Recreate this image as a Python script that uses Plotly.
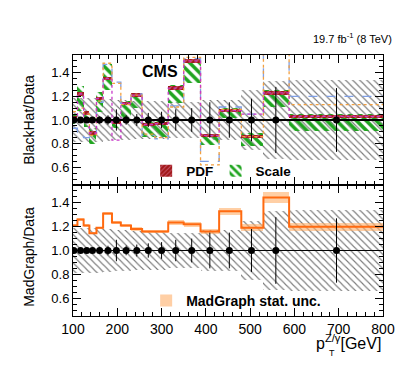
import plotly.graph_objects as go

# pT bin edges [GeV]
edges = [100, 110, 124, 137, 153, 168, 188, 208, 231, 256, 285, 315, 350, 388, 430, 480, 530, 588, 800]
pt_points = [102, 117, 131, 144, 160, 179, 198, 220, 244, 270, 300, 332, 368, 409, 453, 503, 558, 695]
ratio_points = [1.0] * 18
data_stat = [0.02, 0.02, 0.02, 0.02, 0.03, 0.04, 0.09, 0.04, 0.05, 0.06, 0.07, 0.09, 0.10, 0.15, 0.15, 0.18, 0.28, 0.27]
data_syst = [0.19, 0.19, 0.19, 0.19, 0.19, 0.18, 0.17, 0.17, 0.16, 0.16, 0.16, 0.15, 0.15, 0.17, 0.17, 0.25, 0.33, 0.34]

# BlackHat / Data
bh_central = [1.02, 1.22, 1.06, 0.89, 1.18, 1.35, 0.98, 1.14, 1.21, 0.96, 0.97, 1.27, 1.50, 0.87, 1.08, 0.86, 1.23, 1.03]
scale_lo = [0.97, 1.08, 0.94, 0.80, 1.07, 1.25, 0.93, 1.02, 1.10, 0.86, 0.86, 1.14, 1.31, 0.79, 1.02, 0.78, 1.11, 0.91]
scale_hi = [1.04, 1.29, 1.08, 0.93, 1.24, 1.47, 1.00, 1.16, 1.23, 0.99, 1.00, 1.30, 1.52, 0.88, 1.10, 0.89, 1.25, 1.05]
bh_blue = [0.93, 0.86, 0.85, 0.86, 1.15, 1.47, 1.32, 1.14, 1.22, 0.87, 0.84, 1.12, 1.52, 0.65, 1.11, 1.05, 1.70, 1.20]
bh_orange = [1.07, 1.10, 1.05, 0.87, 1.16, 1.48, 1.31, 1.13, 1.21, 0.88, 0.85, 1.11, 1.53, 0.62, 1.09, 0.86, 1.70, 1.13]
bh_magenta = [1.02, 1.22, 1.00, 0.89, 1.18, 1.35, 0.83, 1.14, 1.21, 0.96, 0.97, 1.27, 1.50, 0.87, 1.08, 1.05, 1.23, 1.03]
pdf_err = 0.015

# MadGraph / Data
mg_ratio = [1.21, 1.26, 1.21, 1.145, 1.19, 1.31, 1.235, 1.21, 1.18, 1.16, 1.16, 1.235, 1.22, 1.16, 1.33, 1.19, 1.445, 1.20]
mg_stat = [0.01, 0.01, 0.01, 0.01, 0.01, 0.015, 0.015, 0.015, 0.015, 0.015, 0.015, 0.02, 0.02, 0.02, 0.03, 0.03, 0.05, 0.035]

centers = [(a + b) / 2 for a, b in zip(edges[:-1], edges[1:])]
widths = [b - a for a, b in zip(edges[:-1], edges[1:])]
clear = 'rgba(255,255,255,0)'


def step(vals):
    return edges, vals + [vals[-1]]


fig = go.Figure()

for xa, ya in [('x2', 'y2'), ('x', 'y')]:
    fig.add_trace(go.Bar(x=centers, width=widths, base=[1 - e for e in data_syst], y=[2 * e for e in data_syst],
                         marker=dict(color=clear, line_width=0,
                                     pattern=dict(shape='\\', size=5, solidity=0.22, fillmode='replace',
                                                  fgcolor='#7a7a7a', bgcolor=clear)),
                         xaxis=xa, yaxis=ya, showlegend=False, hoverinfo='skip'))

# top panel: BlackHat
fig.add_trace(go.Bar(x=centers, width=widths, base=scale_lo, y=[h - l for l, h in zip(scale_lo, scale_hi)],
                     marker=dict(color=clear, line=dict(color='#1ea41e', width=0),
                                 pattern=dict(shape='\\', size=7, solidity=0.5, fillmode='replace',
                                              fgcolor='#1ea41e', bgcolor=clear)),
                     name='<b>Scale</b>', xaxis='x2', yaxis='y2', legend='legend3'))
fig.add_trace(go.Bar(x=centers, width=widths, base=[c - pdf_err for c in bh_central], y=[2 * pdf_err] * len(bh_central),
                     marker=dict(color='#a01818', line_width=0,
                                 pattern=dict(shape='/', size=4, solidity=0.3, fillmode='overlay',
                                              bgcolor='#a01818', fgcolor='#f090c0')),
                     name='<b>PDF</b>', xaxis='x2', yaxis='y2', legend='legend'))
for vals, col, dash in [(bh_blue, '#7f9fe6', 'dash'), (bh_orange, '#f2a040', 'dot'), (bh_magenta, '#c838c8', 'dot')]:
    sx, sy = step(vals)
    fig.add_trace(go.Scatter(x=sx, y=sy, mode='lines', line=dict(color=col, width=1.3, dash=dash, shape='hv'),
                             xaxis='x2', yaxis='y2', showlegend=False, hoverinfo='skip'))

# bottom panel: MadGraph
fig.add_trace(go.Bar(x=centers, width=widths, base=[m - s for m, s in zip(mg_ratio, mg_stat)], y=[2 * s for s in mg_stat],
                     marker=dict(color='rgba(255,175,105,0.6)', line_width=0),
                     name='<b>MadGraph stat. unc.</b>', xaxis='x', yaxis='y', legend='legend2'))
sx, sy = step(mg_ratio)
fig.add_trace(go.Scatter(x=sx, y=sy, mode='lines', line=dict(color='#ff6a10', width=2, shape='hv'),
                         xaxis='x', yaxis='y', showlegend=False, hoverinfo='skip'))

# data points
for xa, ya, lw in [('x2', 'y2', 2), ('x', 'y', 1)]:
    fig.add_trace(go.Scatter(x=[100, 800], y=[1, 1], mode='lines', line=dict(color='black', width=lw),
                             xaxis=xa, yaxis=ya, showlegend=False, hoverinfo='skip'))
    fig.add_trace(go.Scatter(x=pt_points, y=ratio_points, mode='markers',
                             marker=dict(color='black', size=7),
                             error_y=dict(type='data', array=data_stat, color='black', thickness=1, width=0),
                             xaxis=xa, yaxis=ya, showlegend=False))

# the page body keeps its default 8px margin, so the figure is 8px smaller than the window
axis_common = dict(showline=True, linecolor='black', linewidth=1, mirror='allticks', ticks='inside',
                   ticklen=8, tickcolor='black', showgrid=False, zeroline=False)
leg_font = dict(size=13.5, family='Liberation Sans, Arial, sans-serif')
fig.update_layout(
    width=399, height=363, margin=dict(l=65, r=21, t=47, b=55),
    plot_bgcolor='white', paper_bgcolor='white', barmode='overlay', bargap=0,
    font=dict(family='Liberation Sans, Arial, sans-serif', size=13, color='black'),
    xaxis=dict(axis_common, domain=[0, 1], anchor='y', range=[100, 800], dtick=100,
               minor=dict(dtick=20, ticks='inside', ticklen=4, tickcolor='black'), tickfont=dict(size=14)),
    xaxis2=dict(axis_common, domain=[0, 1], anchor='y2', matches='x', range=[100, 800], dtick=100,
                showticklabels=False, minor=dict(dtick=20, ticks='inside', ticklen=4, tickcolor='black')),
    yaxis=dict(axis_common, domain=[0, 0.502], range=[0.45, 1.55], tick0=0.2, dtick=0.2, tickformat='.1f',
               minor=dict(dtick=0.05, ticks='inside', ticklen=4, tickcolor='black'), tickfont=dict(size=13)),
    yaxis2=dict(axis_common, domain=[0.502, 1], range=[0.45, 1.55], tick0=0.2, dtick=0.2, tickformat='.1f',
                minor=dict(dtick=0.05, ticks='inside', ticklen=4, tickcolor='black'), tickfont=dict(size=13)),
    legend=dict(orientation='h', x=0.236, y=0.556, xanchor='left', yanchor='middle',
                bgcolor='rgba(0,0,0,0)', font=leg_font),
    legend3=dict(orientation='h', x=0.46, y=0.556, xanchor='left', yanchor='middle',
                 bgcolor='rgba(0,0,0,0)', font=leg_font),
    legend2=dict(orientation='h', x=0.236, y=0.0575, xanchor='left', yanchor='middle',
                 bgcolor='rgba(0,0,0,0)', font=dict(size=14, family='Liberation Sans, Arial, sans-serif')),
    annotations=[
        dict(text='<b>CMS</b>', x=0.217, y=0.935, xref='paper', yref='paper', yanchor='middle',
             showarrow=False, font=dict(size=16)),
        dict(text='19.7 fb<sup>-1</sup> (8 TeV)', x=1.035, y=1.065, xref='paper', yref='paper',
             xanchor='right', yanchor='middle', showarrow=False, font=dict(size=11)),
        dict(text='BlackHat/Data', x=-0.175, y=0.5, xref='paper', yref='y2 domain', textangle=-90,
             showarrow=False, font=dict(size=14)),
        dict(text='MadGraph/Data', x=-0.175, y=0.45, xref='paper', yref='y domain', textangle=-90,
             showarrow=False, font=dict(size=14)),
        dict(text='p<sup>Z/γ</sup>[GeV]', x=1.0, y=-0.1, xref='paper', yref='paper', xanchor='right',
             yanchor='middle', showarrow=False, font=dict(size=16)),
        dict(text='T', x=0.818, y=-0.14, xref='paper', yref='paper', xanchor='left', yanchor='middle',
             showarrow=False, font=dict(size=9)),
    ],
)

fig.write_html('out.html')
